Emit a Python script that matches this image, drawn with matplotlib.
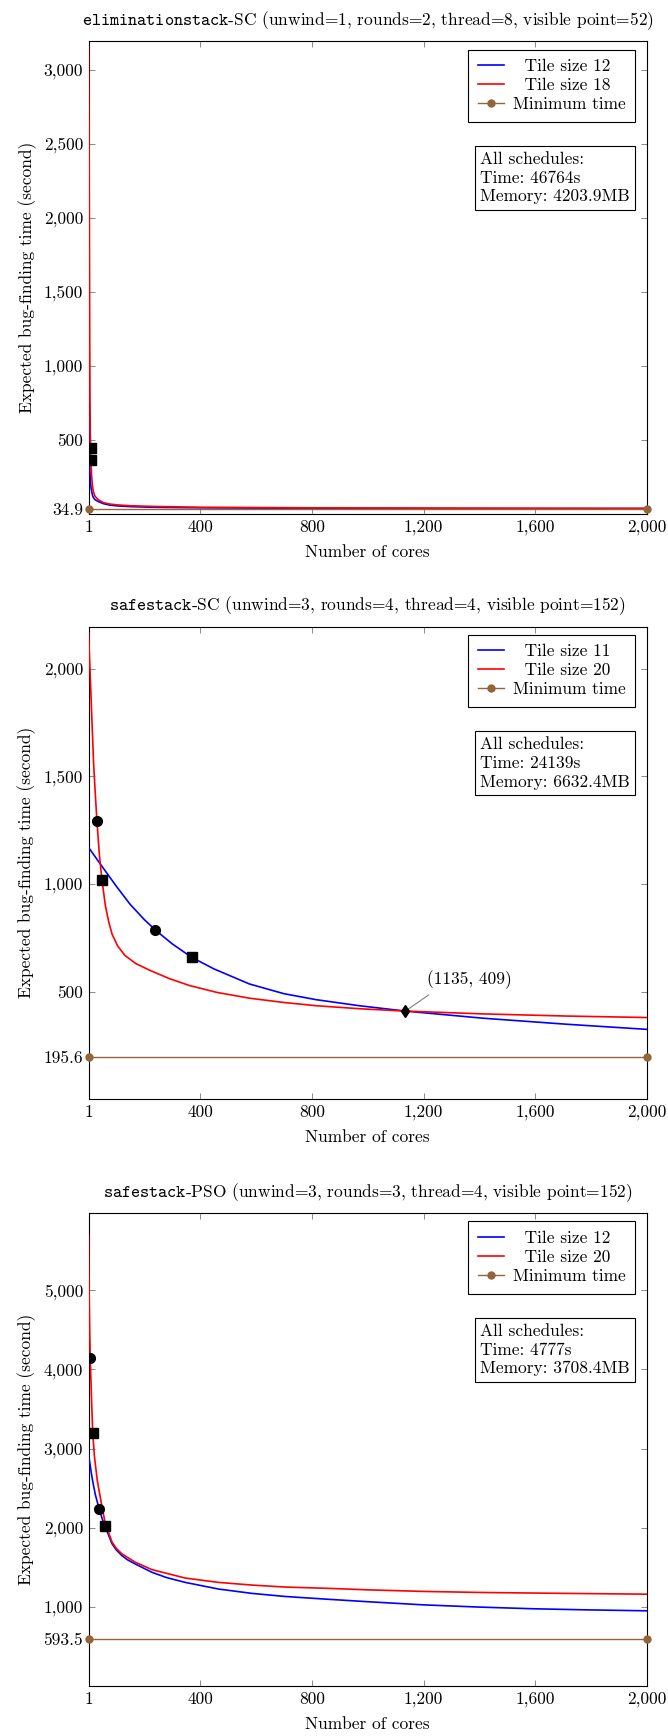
import matplotlib
matplotlib.use("Agg")
import matplotlib.pyplot as plt

# ========================
# General settings
# ========================

plt.rcParams["font.family"] = "cmr10"
plt.rcParams["mathtext.fontset"] = "cm"
plt.rcParams["axes.formatter.use_mathtext"] = True

FONT_SIZE = 12.5
COLOR_A = "#0000ff"
COLOR_B = "#ff0000"
COLOR_MIN = "#94643a"
X_TICKS = [1, 400, 800, 1200, 1600, 2000]

# ========================
# Data
# ========================

# Panel 1: eliminationstack-SC
elim_name = "eliminationstack"
elim_info = "-SC (unwind=1, rounds=2, thread=8, visible point=52)"
elim_label_a = "Tile size 12"
elim_label_b = "Tile size 18"
elim_x_a = [1, 2, 3, 4, 5, 6, 8, 10, 12, 15, 18, 24, 36, 54, 75, 102, 150,
            222, 300, 400, 600, 800, 1200, 1600, 2000]
elim_t_a = [1113, 760, 560, 430, 345, 285, 215, 175, 152, 128, 112, 97, 84,
            70, 61, 55, 50, 46, 44, 42, 40, 39, 38, 37, 37]
elim_x_b = [1, 3, 4, 5, 6, 7, 8, 10, 12, 15, 18, 24, 36, 54, 75, 102, 150,
            222, 300, 400, 600, 800, 1200, 1600, 2000]
elim_t_b = [3155, 2500, 1800, 1200, 800, 560, 440, 330, 255, 190, 152, 120,
            96, 77, 68, 62, 56, 52, 49, 46, 44, 42, 40, 39, 38]
elim_min = 34.9
elim_circles = ([], [])
elim_squares = ([10, 10], [444, 365])
elim_cross = None
elim_yticks = [34.9, 500, 1000, 1500, 2000, 2500, 3000]
elim_ylim = (0, 3192)
elim_box = ["All schedules:", "Time: 46764s", "Memory: 4203.9MB"]

# Panel 2: safestack-SC
sc_name = "safestack"
sc_info = "-SC (unwind=3, rounds=4, thread=4, visible point=152)"
sc_label_a = "Tile size 11"
sc_label_b = "Tile size 20"
sc_x_a = [1, 50, 100, 150, 200, 240, 300, 370, 450, 577, 700, 816, 970,
          1135, 1412, 1711, 2000]
sc_t_a = [1170, 1080, 990, 905, 835, 786, 722, 659, 605, 535, 490, 462, 434,
          409, 376, 348, 324]
sc_x_b = [1, 6, 11, 19, 25, 31, 40, 49, 61, 73, 85, 105, 131, 170, 218, 290,
          362, 460, 577, 700, 816, 970, 1135, 1412, 1711, 2000]
sc_t_b = [2168, 2000, 1830, 1560, 1420, 1291, 1130, 1019, 900, 825, 767, 712,
          668, 630, 600, 560, 528, 496, 469, 449, 434, 420, 409, 396, 386, 379]
sc_min = 195.6
sc_circles = ([31, 240], [1291, 786])
sc_squares = ([49, 370], [1019, 659])
sc_cross = (1135, 409)
sc_yticks = [195.6, 500, 1000, 1500, 2000]
sc_ylim = (0, 2197)
sc_box = ["All schedules:", "Time: 24139s", "Memory: 6632.4MB"]

# Panel 3: safestack-PSO
pso_name = "safestack"
pso_info = "-PSO (unwind=3, rounds=3, thread=4, visible point=152)"
pso_label_a = "Tile size 12"
pso_label_b = "Tile size 20"
pso_x_a = [1, 5, 10, 15, 25, 37, 49, 61, 85, 100, 120, 140, 168, 228, 280,
           347, 466, 586, 705, 848, 1000, 1200, 1400, 1600, 1800, 2000]
pso_t_a = [2932, 2830, 2710, 2602, 2420, 2263, 2120, 2008, 1797, 1720, 1648,
           1595, 1542, 1436, 1370, 1309, 1225, 1170, 1131, 1098, 1065, 1025,
           997, 975, 961, 950]
pso_x_b = [1, 2, 3.5, 5, 7, 10, 13, 16, 22, 32, 49, 61, 85, 100, 120, 168,
           228, 347, 466, 586, 705, 848, 1000, 1200, 1400, 1600, 1800, 2000]
pso_t_b = [5695, 5250, 4877, 4500, 4139, 3800, 3480, 3194, 2900, 2600, 2263,
           2051, 1818, 1740, 1670, 1564, 1470, 1364, 1309, 1275, 1250, 1235,
           1215, 1195, 1182, 1174, 1167, 1160]
pso_min = 593.5
pso_circles = ([7, 39], [4139, 2233])
pso_squares = ([16, 61], [3194, 2021])
pso_cross = None
pso_yticks = [593.5, 1000, 2000, 3000, 4000, 5000]
pso_ylim = (0, 5970)
pso_box = ["All schedules:", "Time: 4777s", "Memory: 3708.4MB"]


# ========================
# Functions
# ========================

def tick_text(v):
    """Integers get a thousands comma, the minimum keeps its decimal."""
    if float(v).is_integer():
        return f"{v:,.0f}"
    return f"{v}"


def draw_panel(ax, p):
    ax.plot(p["x_a"], p["t_a"], color=COLOR_A, lw=1.2, zorder=3,
            label="  " + p["label_a"])
    ax.plot(p["x_b"], p["t_b"], color=COLOR_B, lw=1.2, zorder=3,
            label="  " + p["label_b"])
    ax.plot([X_TICKS[0], X_TICKS[-1]], [p["min"], p["min"]], "-o",
            color=COLOR_MIN, lw=1.0, ms=5, clip_on=False, zorder=4,
            label="Minimum time")

    ax.plot(*p["circles"], "o", color="black", ms=7, zorder=5)
    ax.plot(*p["squares"], "s", color="black", ms=6.5, zorder=5)
    if p["cross"] is not None:
        cx, cy = p["cross"]
        ax.plot(cx, cy, "d", color="black", ms=6, zorder=5)
        ax.annotate(f"({cx}, {cy})", xy=(cx, cy), xytext=(46, 23),
                    textcoords="offset points", ha="center", va="center",
                    fontsize=FONT_SIZE,
                    arrowprops=dict(arrowstyle="-", color="gray", lw=0.8,
                                    relpos=(0.13, 0.0), shrinkA=4.5, shrinkB=1))

    ax.set_xlim(X_TICKS[0], X_TICKS[-1])
    ax.set_ylim(*p["ylim"])
    ax.set_xticks(X_TICKS)
    ax.set_xticklabels([tick_text(v) for v in X_TICKS])
    ax.set_yticks(p["yticks"])
    ax.set_yticklabels([tick_text(v) for v in p["yticks"]])
    ax.tick_params(direction="in", top=True, right=True, length=4,
                   width=0.6, color="#777777", labelsize=FONT_SIZE, pad=4)
    for s in ax.spines.values():
        s.set_linewidth(0.8)

    ax.set_title(r"$\mathtt{" + p["name"] + "}$" + p["info"],
                 fontsize=FONT_SIZE, pad=12)
    ax.set_xlabel("Number of cores", fontsize=FONT_SIZE, labelpad=7)
    ax.set_ylabel("Expected bug-finding time (second)", fontsize=FONT_SIZE,
                  labelpad=5)

    leg = ax.legend(loc="upper right", bbox_to_anchor=(0.9785, 0.983),
                    borderaxespad=0, fontsize=FONT_SIZE, fancybox=False,
                    framealpha=1, edgecolor="black", borderpad=0.55,
                    handlelength=1.5, handletextpad=0.5, labelspacing=0.2)
    leg.get_frame().set_linewidth(0.8)
    leg.set_zorder(6)

    ax.text(0.969, 0.767, "\n".join(p["box"]), transform=ax.transAxes,
            ha="right", va="top", multialignment="left", fontsize=FONT_SIZE,
            linespacing=1.28, zorder=6,
            bbox=dict(boxstyle="square,pad=0.3", fc="white", ec="black",
                      lw=0.8))


# ========================
# Figure
# ========================

def main():
    panels = [
        dict(name=elim_name, info=elim_info, label_a=elim_label_a,
             label_b=elim_label_b, x_a=elim_x_a, t_a=elim_t_a, x_b=elim_x_b,
             t_b=elim_t_b, min=elim_min, circles=elim_circles,
             squares=elim_squares, cross=elim_cross, yticks=elim_yticks,
             ylim=elim_ylim, box=elim_box),
        dict(name=sc_name, info=sc_info, label_a=sc_label_a,
             label_b=sc_label_b, x_a=sc_x_a, t_a=sc_t_a, x_b=sc_x_b,
             t_b=sc_t_b, min=sc_min, circles=sc_circles, squares=sc_squares,
             cross=sc_cross, yticks=sc_yticks, ylim=sc_ylim, box=sc_box),
        dict(name=pso_name, info=pso_info, label_a=pso_label_a,
             label_b=pso_label_b, x_a=pso_x_a, t_a=pso_t_a, x_b=pso_x_b,
             t_b=pso_t_b, min=pso_min, circles=pso_circles,
             squares=pso_squares, cross=pso_cross, yticks=pso_yticks,
             ylim=pso_ylim, box=pso_box),
    ]

    fig = plt.figure(figsize=(6.68, 17.36), dpi=100)
    bottoms = [0.7039, 0.3669, 0.0288]
    for p, b in zip(panels, bottoms):
        ax = fig.add_axes([0.1326, b, 0.836, 0.2722])
        draw_panel(ax, p)

    fig.savefig("out.png", dpi=100)
    plt.close(fig)


if __name__ == "__main__":
    main()
